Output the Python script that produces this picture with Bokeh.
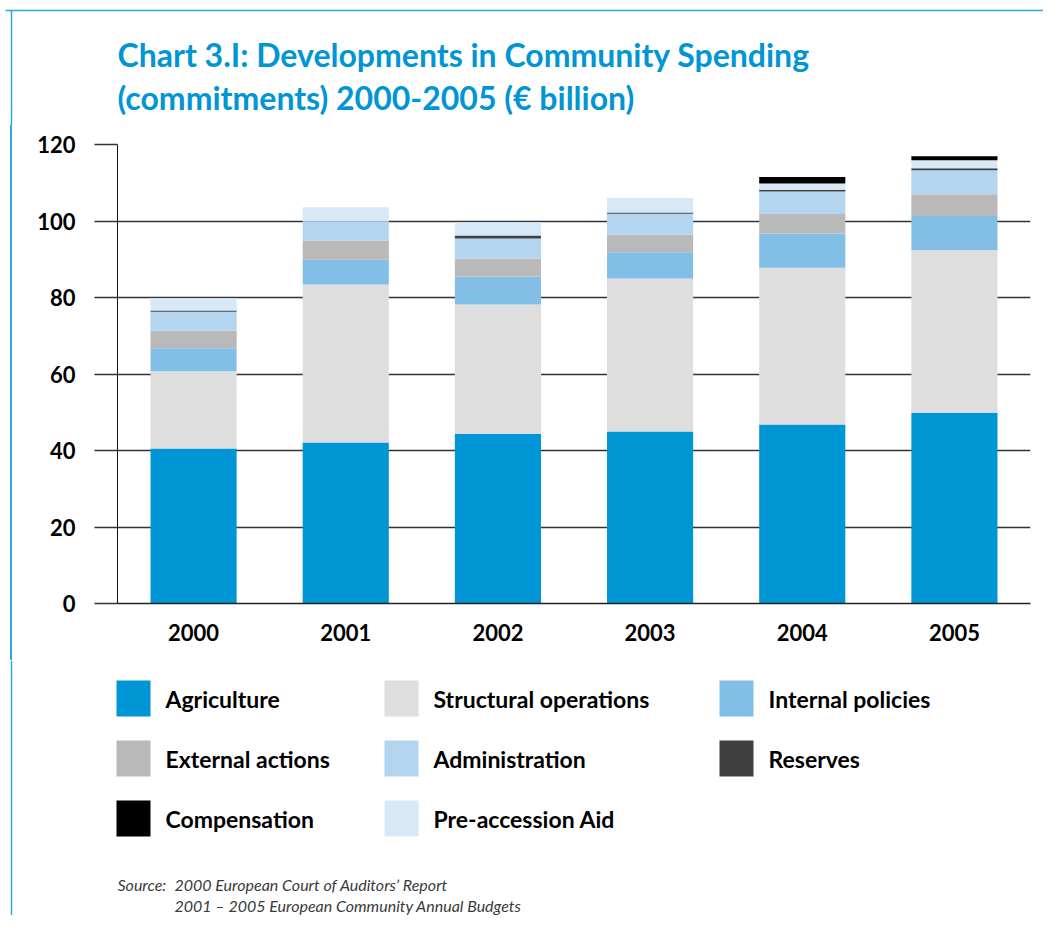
from bokeh.plotting import figure
from bokeh.models import (Label, Span, FactorRange, Range1d, SingleIntervalTicker,
                          ColumnDataSource, Div)
from bokeh.layouts import column, row
from bokeh.embed import file_html
from bokeh.resources import INLINE
from bokeh.core.properties import value

years = ["2000", "2001", "2002", "2003", "2004", "2005"]
agriculture = [40.5, 42.1, 44.4, 45.0, 46.8, 49.9]
structural = [20.2, 41.3, 33.8, 40.0, 41.0, 42.5]
internal = [6.0, 6.5, 7.3, 6.8, 8.9, 8.9]
external = [4.7, 5.0, 4.7, 4.7, 5.1, 5.7]
administration = [4.9, 5.0, 5.2, 5.4, 5.9, 6.3]
reserves = [0.3, 0.0, 0.8, 0.3, 0.5, 0.5]
pre_accession = [3.2, 3.7, 3.5, 3.8, 1.6, 2.1]
compensation = [0.0, 0.0, 0.0, 0.0, 1.7, 1.0]

series_keys = ["agriculture", "structural", "internal", "external",
               "administration", "reserves", "pre_accession", "compensation"]
series_labels = {"agriculture": "Agriculture", "structural": "Structural operations",
                 "internal": "Internal policies", "external": "External actions",
                 "administration": "Administration", "reserves": "Reserves",
                 "pre_accession": "Pre-accession Aid", "compensation": "Compensation"}
series_colors = {"agriculture": "#0095D4", "structural": "#DEDEDE",
                 "internal": "#82BEE6", "external": "#B9B9B9",
                 "administration": "#B3D5F0", "reserves": "#404040",
                 "pre_accession": "#D7E9F6", "compensation": "#000000"}
# legend reading order (3 columns)
legend_order = ["agriculture", "structural", "internal",
                "external", "administration", "reserves",
                "compensation", "pre_accession"]

title_lines = ["Chart 3.I: Developments in Community Spending",
               "(commitments) 2000-2005 (\u20ac billion)"]
source_lines = [("Source:", "2000 European Court of Auditors\u2019 Report"),
                ("", "2001 \u2013 2005 European Community Annual Budgets")]

data = dict(years=years, agriculture=agriculture, structural=structural,
            internal=internal, external=external, administration=administration,
            reserves=reserves, pre_accession=pre_accession, compensation=compensation)

FONT = "Lato"
FRAME_COLOR = "#2DA8E0"
W = 1043


def blank(width, height, y0, y1):
    f = figure(width=width, height=height, x_range=Range1d(0, width),
               y_range=Range1d(y1, y0), output_backend="svg", toolbar_location=None,
               min_border=0)
    f.axis.visible = False
    f.grid.visible = False
    f.outline_line_color = None
    f.background_fill_color = "white"
    f.border_fill_color = "white"
    return f


# ---- title strip (page y 0..125)
top = blank(W, 125, 0, 125)
top.segment(x0=[5, 11], y0=[10, 10], x1=[W, 11], y1=[10, 125],
            line_color=FRAME_COLOR, line_width=1.5)
for txt, yy in zip(title_lines, [54, 97]):
    top.add_layout(Label(x=117, y=yy, text=txt, text_align="left",
                         text_baseline="middle", text_font=FONT,
                         text_font_size="32px", text_font_style="bold",
                         text_color="#0095D4"))

# ---- left strip beside chart (page frame line)
LS = 30
strip = Div(text='<div style="margin:0 0 0 10px;padding:0;width:1.5px;height:535px;'
                 'background:%s"></div>' % FRAME_COLOR,
            width=LS, height=535, margin=0)

# ---- main chart (page y 125..660)
p = figure(width=W - LS, height=535, x_range=FactorRange(*years),
           y_range=Range1d(0, 120), output_backend="svg", toolbar_location=None,
           min_border_left=117 - LS, min_border_right=W - LS - (117 - LS) - 913,
           min_border_top=19, min_border_bottom=57)
p.outline_line_color = None
p.background_fill_color = "white"
p.border_fill_color = "white"

p.vbar_stack(series_keys, x="years", width=0.566,
             color=[series_colors[k] for k in series_keys],
             line_color=None, source=ColumnDataSource(data))

p.xgrid.grid_line_color = None
p.ygrid.grid_line_color = "#333333"
p.ygrid.grid_line_width = 1.5
p.yaxis.ticker = SingleIntervalTicker(interval=20)
p.yaxis.minor_tick_line_color = None
p.yaxis.major_tick_out = 23
p.yaxis.major_tick_in = 0
p.yaxis.major_tick_line_color = "#333333"
p.yaxis.major_tick_line_width = 1.5
p.yaxis.axis_line_color = "#111111"
p.yaxis.axis_line_width = 1
p.yaxis.major_label_standoff = 19
p.xaxis.major_tick_line_color = None
p.xaxis.axis_line_color = "#222222"
p.xaxis.axis_line_width = 1.5
p.xaxis.major_label_standoff = 14
for ax in (p.xaxis, p.yaxis):
    ax.major_label_text_font = FONT
    ax.major_label_text_font_size = "22px"
    ax.major_label_text_font_style = "bold"
    ax.major_label_text_color = "#000000"

# ---- bottom strip: legend + source (page y 660..915)
bot = blank(W, 255, 660, 915)
bot.add_layout(Span(location=11, dimension="height", line_color=FRAME_COLOR, line_width=1.5))
col_left = [116, 384, 719]
row_mid = [698, 758, 818]
sw_x, sw_y, lab_x, names, cols = [], [], [], [], []
for i, key in enumerate(legend_order):
    r, c = divmod(i, 3)
    sw_x.append(col_left[c] + 17)
    sw_y.append(row_mid[r])
    lab_x.append(col_left[c] + 49)
    names.append(series_labels[key])
    cols.append(series_colors[key])
leg_src = ColumnDataSource(dict(sx=sw_x, sy=sw_y, lx=lab_x, name=names, color=cols))
bot.rect(x="sx", y="sy", width=34, height=36, fill_color="color", line_color=None,
         source=leg_src)
bot.text(x="lx", y="sy", text="name", text_align="left", text_baseline="middle",
         text_font=value(FONT), text_font_size="23px", text_font_style="bold",
         text_color="#000000", source=leg_src)
for (a, b), yy in zip(source_lines, [884, 905]):
    if a:
        bot.add_layout(Label(x=117, y=yy, text=a, text_align="left",
                             text_baseline="middle", text_font=FONT,
                             text_font_size="16px", text_font_style="italic",
                             text_color="#3a3a3a"))
    bot.add_layout(Label(x=174, y=yy, text=b, text_align="left",
                         text_baseline="middle", text_font=FONT,
                         text_font_size="16px", text_font_style="italic",
                         text_color="#3a3a3a"))

layout = column(top, row(strip, p), bot)
open("out.html", "w").write(file_html(layout, INLINE))
